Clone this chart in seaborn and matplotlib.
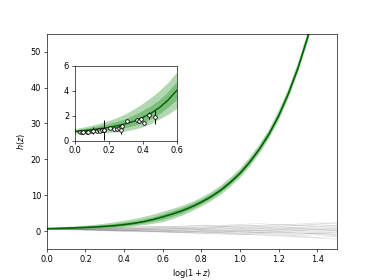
import matplotlib
matplotlib.use("Agg")
import matplotlib.pyplot as plt
import numpy as np
import pandas as pd
import seaborn as sns

# reconstruction of h(z) on a grid of log(1+z)
logz = [0.00, 0.05, 0.10, 0.15, 0.20, 0.25, 0.30, 0.35, 0.40, 0.45, 0.50,
        0.55, 0.60, 0.65, 0.70, 0.75, 0.80, 0.85, 0.90, 0.95, 1.00,
        1.05, 1.10, 1.15, 1.20, 1.25, 1.30, 1.35, 1.40, 1.45, 1.50]
h_mid = [0.72, 0.79, 0.87, 0.96, 1.06, 1.19, 1.35, 1.55, 1.85, 2.20, 2.65,
         3.25, 4.00, 4.80, 5.70, 6.80, 8.10, 9.60, 11.4, 13.6, 16.1,
         19.2, 22.8, 27.0, 32.1, 38.2, 45.4, 53.9, 64.1, 76.2, 90.5]
lo95 = [0.54, 0.56, 0.57, 0.58, 0.60, 0.65, 0.72, 0.85, 1.05, 1.32, 1.68,
        2.05, 2.50, 3.30, 4.30, 5.50, 6.85, 8.35, 10.1, 12.3, 14.8,
        17.9, 21.5, 25.7, 30.7, 36.8, 44.0, 52.4, 62.6, 74.6, 88.9]
lo68 = [0.62, 0.66, 0.70, 0.75, 0.81, 0.89, 1.00, 1.15, 1.38, 1.70, 2.10,
        2.62, 3.20, 4.00, 4.95, 6.10, 7.45, 8.95, 10.75, 12.95, 15.45,
        18.55, 22.15, 26.35, 31.45, 37.55, 44.75, 53.2, 63.4, 75.45, 89.7]
hi68 = [0.82, 0.92, 1.03, 1.17, 1.31, 1.50, 1.72, 2.00, 2.36, 2.75, 3.22,
        3.85, 4.65, 5.55, 6.45, 7.50, 8.75, 10.25, 12.05, 14.25, 16.75,
        19.85, 23.45, 27.65, 32.75, 38.85, 46.05, 54.6, 64.8, 76.95, 91.3]
hi95 = [0.90, 1.03, 1.18, 1.35, 1.55, 1.80, 2.10, 2.48, 2.92, 3.40, 3.95,
        4.60, 5.40, 6.20, 7.05, 8.05, 9.35, 10.85, 12.7, 14.9, 17.4,
        20.5, 24.1, 28.3, 33.5, 39.6, 46.8, 55.4, 65.6, 77.8, 92.1]

# null realisations (grey)
null_x = [0.0, 0.1, 0.2, 0.3, 0.4, 0.5, 0.6, 0.7, 0.8, 0.9, 1.0, 1.1, 1.2, 1.3, 1.4, 1.5]
null_draws = [
    [0.7, 0.6, 0.5, 0.3, 0.2, 0.1, -0.1, -0.3, -0.2, -0.5, -0.8, -0.6, -0.9, -1.2, -1.0, -1.4],
    [0.7, 0.8, 0.9, 1.0, 1.1, 1.3, 1.2, 1.5, 1.7, 1.6, 1.9, 2.1, 1.8, 2.0, 2.3, 2.1],
    [0.6, 0.5, 0.4, 0.5, 0.3, 0.4, 0.2, 0.3, 0.5, 0.2, 0.4, 0.1, 0.3, 0.5, 0.2, 0.4],
    [0.7, 0.7, 0.6, 0.8, 0.7, 0.9, 1.0, 0.8, 1.1, 1.3, 1.0, 1.2, 0.9, 1.1, 1.4, 1.2],
    [0.6, 0.5, 0.3, 0.2, 0.0, -0.2, -0.1, -0.4, -0.6, -0.5, -0.8, -1.1, -1.3, -1.6, -1.9, -2.2],
    [0.7, 0.6, 0.6, 0.4, 0.5, 0.3, 0.5, 0.6, 0.4, 0.7, 0.5, 0.8, 0.6, 0.9, 0.7, 1.0],
    [0.6, 0.6, 0.5, 0.4, 0.6, 0.5, 0.7, 0.9, 0.8, 1.1, 1.4, 1.6, 1.9, 1.7, 2.0, 2.4],
    [0.7, 0.6, 0.4, 0.3, 0.1, 0.2, 0.0, -0.2, 0.1, -0.1, 0.2, 0.0, -0.3, -0.1, -0.4, -0.2],
    [0.6, 0.5, 0.5, 0.3, 0.2, 0.0, -0.1, 0.1, -0.2, -0.4, -0.3, -0.5, -0.4, -0.7, -0.5, -0.8],
    [0.7, 0.8, 0.7, 0.9, 0.8, 0.7, 0.9, 0.6, 0.8, 0.5, 0.7, 0.4, 0.6, 0.3, 0.5, 0.2],
    [0.6, 0.5, 0.4, 0.2, 0.3, 0.1, -0.2, -0.4, -0.5, -0.8, -1.0, -0.9, -1.2, -1.4, -1.7, -1.5],
    [0.7, 0.7, 0.8, 0.6, 0.9, 1.0, 1.2, 1.1, 1.3, 1.2, 1.5, 1.3, 1.6, 1.5, 1.8, 1.6],
    [0.6, 0.4, 0.3, 0.1, -0.1, 0.0, -0.3, -0.2, -0.5, -0.3, -0.6, -0.4, -0.7, -0.9, -0.6, -0.9],
    [0.7, 0.7, 0.9, 1.1, 0.9, 1.2, 1.4, 1.3, 1.6, 1.4, 1.7, 1.5, 1.3, 1.6, 1.4, 1.7],
    [0.6, 0.6, 0.4, 0.6, 0.4, 0.6, 0.3, 0.5, 0.2, 0.4, 0.1, 0.3, 0.0, 0.2, -0.1, 0.1],
    [0.7, 0.5, 0.5, 0.2, 0.3, 0.0, 0.2, -0.1, 0.1, -0.2, 0.0, -0.3, -0.1, -0.4, -0.6, -0.3],
    [0.6, 0.7, 0.6, 0.7, 0.9, 0.8, 0.6, 0.8, 0.6, 0.9, 0.7, 1.0, 1.2, 0.9, 1.1, 0.8],
    [0.7, 0.6, 0.7, 0.5, 0.4, 0.6, 0.4, 0.2, 0.4, 0.1, -0.2, -0.4, -0.2, -0.5, -0.8, -1.1],
    [0.6, 0.6, 0.7, 0.8, 0.6, 0.8, 1.0, 1.1, 0.9, 1.2, 1.1, 0.8, 0.6, 0.8, 0.5, 0.7],
    [0.7, 0.6, 0.4, 0.5, 0.2, 0.3, 0.4, 0.1, -0.1, 0.1, -0.1, 0.2, 0.4, 0.2, 0.5, 0.3],
]

# measurements shown in the inset
obs_x = [0.03, 0.04, 0.05, 0.07, 0.08, 0.10, 0.11, 0.13, 0.14, 0.15, 0.16, 0.17, 0.175,
         0.21, 0.23, 0.25, 0.26, 0.27, 0.275, 0.28, 0.31, 0.365, 0.38, 0.39, 0.41, 0.44, 0.475]
obs_h = [0.66, 0.67, 0.65, 0.72, 0.68, 0.75, 0.80, 0.78, 0.82, 0.80, 0.86, 0.88, 0.82,
         1.02, 0.92, 0.94, 1.02, 1.12, 0.86, 1.15, 1.53, 1.68, 1.58, 1.75, 1.40, 2.02, 1.88]
obs_err = [0.06, 0.05, 0.08, 0.10, 0.15, 0.12, 0.25, 0.10, 0.08, 0.12, 0.15, 0.80, 0.20,
           0.08, 0.10, 0.15, 0.12, 0.20, 0.35, 0.15, 0.10, 0.15, 0.20, 0.12, 0.10, 0.25, 0.55]

rec = pd.DataFrame({"x": logz, "h": h_mid, "lo95": lo95, "lo68": lo68,
                    "hi68": hi68, "hi95": hi95})
null = pd.DataFrame([
    {"x": xv, "h": hv, "draw": i}
    for i, draw in enumerate(null_draws)
    for xv, hv in zip(null_x, draw)
])
obs = pd.DataFrame({"x": obs_x, "h": obs_h, "err": obs_err})

fig = plt.figure(figsize=(374 / 58.4, 280 / 58.4), dpi=58.4)
ax = fig.add_subplot(111)


def draw_reconstruction(a, lw):
    a.fill_between(rec["x"], rec["lo95"], rec["hi95"], color="green", alpha=0.3, lw=0)
    a.fill_between(rec["x"], rec["lo68"], rec["hi68"], color="green", alpha=0.3, lw=0)
    sns.lineplot(data=rec, x="x", y="h", color="darkgreen", lw=lw, ax=a)


sns.lineplot(data=null, x="x", y="h", units="draw", estimator=None,
             color="gray", alpha=0.25, lw=0.8, ax=ax)
draw_reconstruction(ax, 2.0)
ax.set_xlim(0, 1.5)
ax.set_ylim(-5, 55)
ax.set_xlabel(r"$\log(1+z)$")
ax.set_ylabel(r"$h(z)$")

ins = fig.add_axes([0.2, 0.498, 0.272, 0.267])
draw_reconstruction(ins, 1.8)
ins.errorbar(obs["x"], obs["h"], yerr=obs["err"], fmt="none", ecolor="black", elinewidth=1.2)
sns.scatterplot(data=obs, x="x", y="h", color="white", edgecolor="black",
                linewidth=1.0, s=20, zorder=5, ax=ins)
ins.set_xlim(0, 0.6)
ins.set_ylim(0, 6)
ins.set_xticks([0.0, 0.2, 0.4, 0.6])
ins.set_yticks([0, 2, 4, 6])
ins.set_xlabel("")
ins.set_ylabel("")

fig.savefig("out.png", dpi=58.4)
